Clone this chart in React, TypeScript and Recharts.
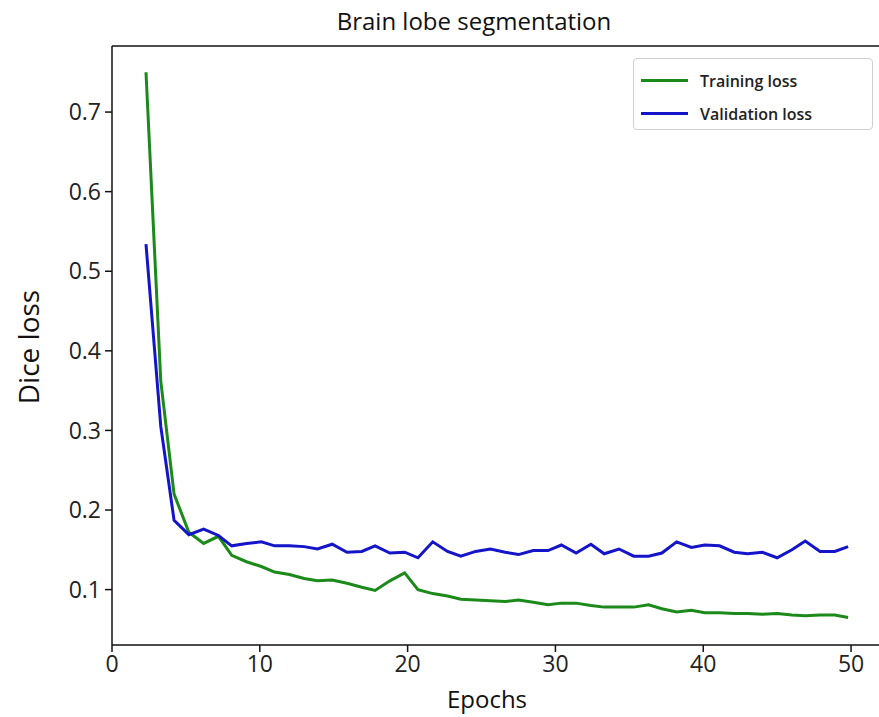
import { LineChart, Line, XAxis, YAxis, Legend, ReferenceLine } from 'recharts';

// epoch positions (first point sits a little past 2)
const epochs = [
  2.3, 3.3, 4.2, 5.2, 6.2, 7.2, 8.1, 9.1, 10.1, 11.0,
  12.0, 13.0, 13.9, 14.9, 15.9, 16.9, 17.8, 18.8, 19.8, 20.7,
  21.7, 22.7, 23.6, 24.6, 25.6, 26.6, 27.5, 28.5, 29.5, 30.4,
  31.4, 32.4, 33.3, 34.3, 35.3, 36.3, 37.2, 38.2, 39.2, 40.1,
  41.1, 42.1, 43.0, 44.0, 45.0, 46.0, 46.9, 47.9, 48.9, 49.8,
];

const trainingLoss = [
  0.75, 0.362, 0.22, 0.172, 0.158, 0.167, 0.143, 0.135, 0.129, 0.122,
  0.119, 0.114, 0.111, 0.112, 0.108, 0.103, 0.099, 0.111, 0.121, 0.1,
  0.095, 0.092, 0.088, 0.087, 0.086, 0.085, 0.087, 0.084, 0.081, 0.083,
  0.083, 0.08, 0.078, 0.078, 0.078, 0.081, 0.076, 0.072, 0.074, 0.071,
  0.071, 0.07, 0.07, 0.069, 0.07, 0.068, 0.067, 0.068, 0.068, 0.065,
];

const validationLoss = [
  0.534, 0.305, 0.187, 0.169, 0.176, 0.168, 0.155, 0.158, 0.16, 0.155,
  0.155, 0.154, 0.151, 0.157, 0.147, 0.148, 0.155, 0.146, 0.147, 0.14,
  0.16, 0.148, 0.142, 0.148, 0.151, 0.147, 0.144, 0.149, 0.149, 0.156,
  0.146, 0.157, 0.145, 0.151, 0.142, 0.142, 0.146, 0.16, 0.153, 0.156,
  0.155, 0.147, 0.145, 0.147, 0.14, 0.15, 0.161, 0.148, 0.148, 0.154,
];

const xTicks = [0, 10, 20, 30, 40, 50];
const yTicks = [0.1, 0.2, 0.3, 0.4, 0.5, 0.6, 0.7];

const Y_MIN = 0.0304;
const Y_MAX = 0.783;

const GREEN = '#1b8a1b';
const BLUE = '#1414c8';
const FONT = '"Open Sans", "DejaVu Sans", sans-serif';

const data = epochs.map((epoch, i) => ({
  epoch,
  train: trainingLoss[i],
  val: validationLoss[i],
}));

function LegendBox({ payload }: any) {
  return (
    <div
      style={{
        width: 240,
        height: 72,
        border: '1px solid #cfcfcf',
        borderRadius: 4,
        background: '#fff',
        boxSizing: 'border-box',
        paddingTop: 5,
      }}
    >
      {(payload || []).map((p: any) => (
        <div key={p.value} style={{ display: 'flex', alignItems: 'center', height: 33 }}>
          <div style={{ width: 47, height: 3, background: p.color, marginLeft: 7 }} />
          <span style={{ marginLeft: 12, fontSize: 16, fontWeight: 600, color: '#222', fontFamily: FONT }}>
            {p.value}
          </span>
        </div>
      ))}
    </div>
  );
}

export default function App() {
  return (
    <div
      style={{
        position: 'absolute',
        left: 0,
        top: 0,
        width: 879,
        height: 717,
        overflow: 'hidden',
        background: '#fff',
        fontFamily: FONT,
      }}
    >
      <div
        style={{
          position: 'absolute',
          left: 274,
          top: 6,
          width: 400,
          textAlign: 'center',
          fontSize: 24,
          fontWeight: 500,
          lineHeight: '30px',
          color: '#111',
        }}
      >
        Brain lobe segmentation
      </div>
      <div
        style={{
          position: 'absolute',
          left: 387,
          top: 684,
          width: 200,
          textAlign: 'center',
          fontSize: 24,
          lineHeight: '30px',
          color: '#111',
        }}
      >
        Epochs
      </div>
      <div
        style={{
          position: 'absolute',
          left: 28 - 90,
          top: 347 - 18,
          width: 180,
          textAlign: 'center',
          fontSize: 28,
          lineHeight: '36px',
          color: '#111',
          transform: 'rotate(-90deg)',
        }}
      >
        Dice loss
      </div>
      <LineChart width={900} height={717} data={data} margin={{ top: 46, right: 12, left: 0, bottom: 0 }}>
        <XAxis
          dataKey="epoch"
          type="number"
          domain={[0, 52.5]}
          ticks={xTicks}
          height={72}
          stroke="#111"
          strokeWidth={1.5}
          tickSize={7}
          tickMargin={4}
          tick={{ fill: '#222', fontSize: 23, fontFamily: FONT }}
          allowDataOverflow
        />
        <YAxis
          type="number"
          domain={[Y_MIN, Y_MAX]}
          ticks={yTicks}
          width={112}
          stroke="#111"
          strokeWidth={1.5}
          tickSize={7}
          tickMargin={4}
          tickFormatter={(v: number) => v.toFixed(1)}
          tick={{ fill: '#222', fontSize: 23, fontFamily: FONT }}
          allowDataOverflow
        />
        <ReferenceLine y={Y_MAX} stroke="#111" strokeWidth={1.5} ifOverflow="extendDomain" />
        <Legend
          layout="vertical"
          align="center"
          verticalAlign="middle"
          content={<LegendBox />}
          wrapperStyle={{ left: 633, top: 58, width: 240, height: 72 }}
        />
        <Line
          type="linear"
          dataKey="train"
          name="Training loss"
          stroke={GREEN}
          strokeWidth={3}
          dot={false}
          isAnimationActive={false}
        />
        <Line
          type="linear"
          dataKey="val"
          name="Validation loss"
          stroke={BLUE}
          strokeWidth={3}
          dot={false}
          isAnimationActive={false}
        />
      </LineChart>
    </div>
  );
}
